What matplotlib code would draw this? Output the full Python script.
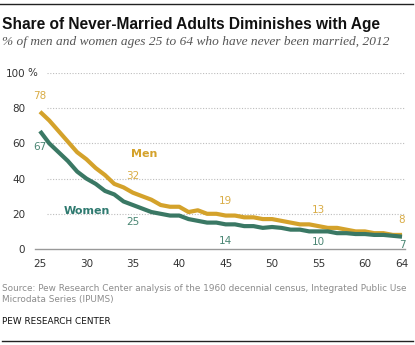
import matplotlib
matplotlib.use("Agg")
from matplotlib import pyplot as plt

# Data (% never married, 2012)
AGES = list(range(25, 65))
MEN = [78, 73, 67, 61, 55, 51, 46, 42, 37, 35,
       32, 30, 28, 25, 24, 24, 21, 22, 20, 20,
       19, 19, 18, 18, 17, 17, 16, 15, 14, 14,
       13, 12, 12, 11, 10, 10, 9, 9, 8, 8]
WOMEN = [67, 60, 55, 50, 44, 40, 37, 33, 31, 27,
         25, 23, 21, 20, 19, 19, 17, 16, 15, 15,
         14, 14, 13, 13, 12, 12.5, 12, 11, 11, 10,
         10, 10, 9, 9, 8.5, 8.5, 8, 8, 7.5, 7]
LABEL_AGES = [25, 35, 45, 55, 64]
X_TICKS = [25, 30, 35, 40, 45, 50, 55, 60, 64]
Y_TICKS = [0, 20, 40, 60, 80, 100]

MEN_COLOR = "#d4a22b"
MEN_LABEL_COLOR = "#d9ac45"
WOMEN_COLOR = "#3a7864"
WOMEN_LABEL_COLOR = "#4a8673"

TITLE = "Share of Never-Married Adults Diminishes with Age"
SUBTITLE = "% of men and women ages 25 to 64 who have never been married, 2012"
SOURCE = ("Source: Pew Research Center analysis of the 1960 decennial census, Integrated Public Use\n"
          "Microdata Series (IPUMS)")
CREDIT = "PEW RESEARCH CENTER"

W, H = 415, 345


def main():
    fig = plt.figure(figsize=(W / 100, H / 100), dpi=100)
    ax = fig.add_axes([35 / W, 1 - 249 / H, 370 / W, 176 / H])

    ax.plot(AGES, MEN, color=MEN_COLOR, lw=3.0, solid_capstyle="butt", zorder=3)
    ax.plot(AGES, WOMEN, color=WOMEN_COLOR, lw=3.0, solid_capstyle="butt", zorder=3)

    ax.set_xlim(24.46, 64.32)
    ax.set_ylim(0, 100)

    # dotted gridlines
    ax.hlines(Y_TICKS[1:], 25.75, 64.3, colors="#bdbdbd", linestyles=(0, (1, 1.5)), lw=0.8, zorder=1)

    for s in ["top", "right", "left"]:
        ax.spines[s].set_visible(False)
    ax.spines["bottom"].set_color("#999999")
    ax.spines["bottom"].set_linewidth(1.0)

    ax.set_xticks(X_TICKS)
    ax.set_yticks(Y_TICKS)
    ax.tick_params(axis="both", length=0, labelsize=7.5, labelcolor="#333333")
    ax.tick_params(axis="y", pad=7)
    ax.tick_params(axis="x", pad=7)
    ax.annotate("%", xy=(0, 100), xycoords=("axes fraction", "data"), xytext=(-8, 0),
                textcoords="offset pixels", ha="left", va="center", fontsize=7.5, color="#333333")

    # value labels
    men_offsets = [16, 17, 15, 16, 15]
    women_offsets = [-16, -17, -17, -11, -8]
    for age, dm, dw in zip(LABEL_AGES, men_offsets, women_offsets):
        i = AGES.index(age)
        ax.annotate(f"{MEN[i]:g}", xy=(age, MEN[i]), xytext=(0, dm), textcoords="offset pixels",
                    ha="center", va="center", fontsize=7.5, color=MEN_LABEL_COLOR)
        ax.annotate(f"{WOMEN[i]:g}", xy=(age, WOMEN[i]), xytext=(0, dw), textcoords="offset pixels",
                    ha="center", va="center", fontsize=7.5, color=WOMEN_LABEL_COLOR)

    ax.text(36.2, 54, "Men", ha="center", va="center", fontsize=8, fontweight="bold", color=MEN_COLOR)
    ax.text(30.1, 21.6, "Women", ha="center", va="center", fontsize=8, fontweight="bold", color="#2f7a70")

    # titles and notes
    fig.text(2 / W, 1 - 29 / H, TITLE, fontsize=11.2, fontweight="bold", family="Liberation Sans",
             ha="left", va="baseline", color="#111111")
    fig.text(2 / W, 1 - 45 / H, SUBTITLE, fontsize=9.6, style="italic", family="Liberation Serif",
             ha="left", va="baseline", color="#555555")
    fig.text(2 / W, 1 - 302 / H, SOURCE, fontsize=6.4, ha="left", va="baseline", color="#8c8c8c",
             linespacing=1.3)
    fig.text(2 / W, 1 - 324 / H, CREDIT, fontsize=6.4, ha="left", va="baseline", color="#111111")

    fig.add_artist(plt.Line2D([0, 413 / W], [1 - 3.5 / H] * 2, color="#222222", lw=1.0))
    fig.add_artist(plt.Line2D([2 / W, 413 / W], [1 - 341 / H] * 2, color="#222222", lw=1.0))

    fig.savefig("out.png", dpi=100)


if __name__ == '__main__':
    main()
